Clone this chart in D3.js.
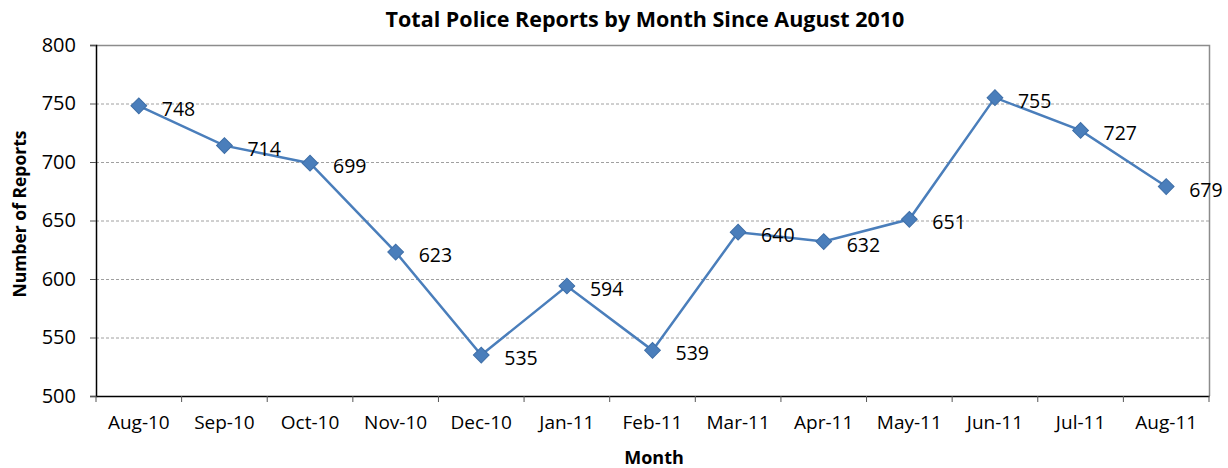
<!DOCTYPE html>
<html lang="en">
<head>
<meta charset="UTF-8" />
<title>Total Police Reports</title>
<script src="https://cdn.jsdelivr.net/npm/d3@7"></script>
<style>
	body { margin: 0; background: #fff; }
	text { font-family: "Open Sans", "Noto Sans", sans-serif; fill: #000; }
</style>
</head>
<body>
<svg id="vis" width="1228" height="468"></svg>
<script>
	const months = ["Aug-10", "Sep-10", "Oct-10", "Nov-10", "Dec-10", "Jan-11", "Feb-11",
		"Mar-11", "Apr-11", "May-11", "Jun-11", "Jul-11", "Aug-11"];
	const reports = [748, 714, 699, 623, 535, 594, 539, 640, 632, 651, 755, 727, 679];
	const yTicks = [500, 550, 600, 650, 700, 750, 800];

	const plotLeft = 96, plotRight = 1209, plotTop = 45, plotBottom = 396;
	const svg = d3.select("#vis");

	// scales
	let x = d3.scaleBand().domain(months).range([plotLeft, plotRight]);
	let y = d3.scaleLinear().domain([500, 800]).range([plotBottom, plotTop]);

	// gridlines
	svg.append("g").selectAll("line")
		.data(yTicks.filter(d => d > 500 && d < 800))
		.join("line")
		.attr("x1", plotLeft).attr("x2", plotRight)
		.attr("y1", d => y(d) + 0.5).attr("y2", d => y(d) + 0.5)
		.attr("stroke", "#a0a0a0").attr("stroke-dasharray", "3,2");

	// top and right border
	svg.append("path")
		.attr("d", `M${plotLeft},${plotTop + 0.5}H${plotRight + 0.5}V${plotBottom}`)
		.attr("fill", "none").attr("stroke", "#8c8c8c").attr("stroke-width", 1.5);

	// axes
	let yAxis = d3.axisLeft(y).tickValues(yTicks).tickSize(6).tickPadding(14);
	let gy = svg.append("g").attr("transform", `translate(${plotLeft},0)`).call(yAxis);
	gy.select(".domain").attr("stroke", "#000").attr("stroke-width", 1.5);
	gy.selectAll(".tick line").attr("stroke", "#555");
	gy.selectAll("text").style("font-size", "20px").style("font-family", '"Open Sans", sans-serif');

	let xAxis = d3.axisBottom(x).tickSize(0).tickPadding(20);
	let gx = svg.append("g").attr("transform", `translate(0,${plotBottom})`).call(xAxis);
	gx.select(".domain").attr("stroke", "#000").attr("stroke-width", 1.5);
	gx.selectAll("text").style("font-size", "19px").style("font-family", '"Open Sans", sans-serif');
	// tick marks at band boundaries
	gx.append("g").selectAll("line")
		.data(months.map(m => x(m)).concat([plotRight]))
		.join("line")
		.attr("x1", d => d).attr("x2", d => d)
		.attr("y1", 0).attr("y2", 6)
		.attr("stroke", "#555");

	// line
	const cx = m => x(m) + x.bandwidth() / 2;
	let line = d3.line().x((d, i) => cx(months[i])).y(d => y(d));
	svg.append("path").datum(reports)
		.attr("d", line)
		.attr("fill", "none").attr("stroke", "#4a7ebb").attr("stroke-width", 2.5);

	// diamond markers
	svg.append("g").selectAll("path")
		.data(reports)
		.join("path")
		.attr("d", d3.symbol(d3.symbolSquare, 124)())
		.attr("transform", (d, i) => `translate(${cx(months[i])},${y(d)}) rotate(45)`)
		.attr("fill", "#4a7ebb").attr("stroke", "#3f6fa8").attr("stroke-width", 1);

	// value labels
	svg.append("g").selectAll("text")
		.data(reports)
		.join("text")
		.attr("x", (d, i) => cx(months[i]) + 23)
		.attr("y", d => y(d) + 10)
		.style("font-size", "19.5px")
		.text(d => d);

	// titles
	svg.append("text").attr("x", 645).attr("y", 27).attr("text-anchor", "middle")
		.style("font-size", "21.5px").style("font-weight", "bold")
		.text("Total Police Reports by Month Since August 2010");
	svg.append("text").attr("x", 654).attr("y", 464).attr("text-anchor", "middle")
		.style("font-size", "18px").style("font-weight", "bold")
		.text("Month");
	svg.append("text").attr("transform", "translate(26,214) rotate(-90)").attr("text-anchor", "middle")
		.style("font-size", "17.5px").style("font-weight", "bold")
		.text("Number of Reports");
</script>
</body>
</html>
